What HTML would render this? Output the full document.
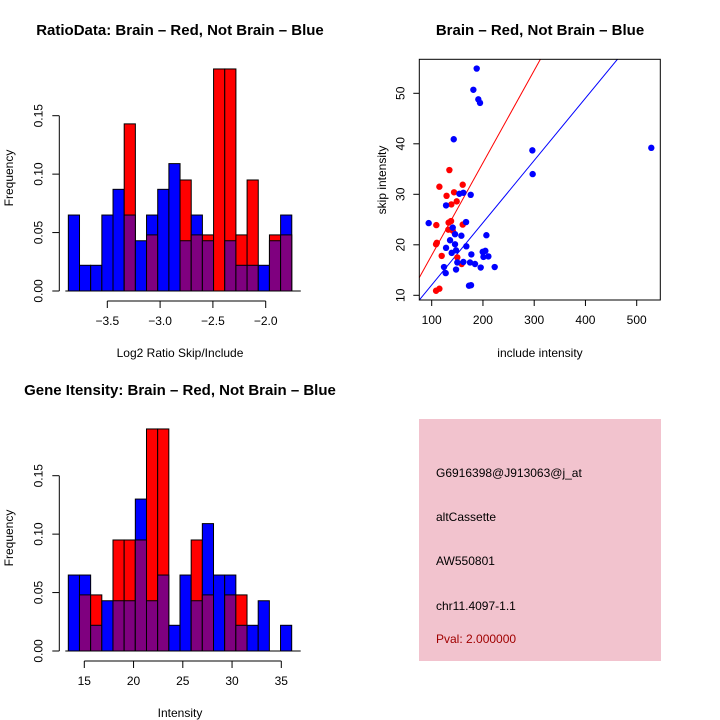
<!DOCTYPE html>
<html><head><meta charset="utf-8"><style>
body{margin:0;background:#fff}
svg{display:block;font-family:"Liberation Sans",sans-serif}
</style></head><body>
<svg id="s" width="720" height="720" xmlns="http://www.w3.org/2000/svg">
<rect width="720" height="720" fill="#fff"/>
<text x="180" y="35" font-size="15" font-weight="bold" text-anchor="middle">RatioData: Brain – Red, Not Brain – Blue</text>
<text x="540" y="35" font-size="15" font-weight="bold" text-anchor="middle">Brain – Red, Not Brain – Blue</text>
<text x="180" y="395" font-size="15" font-weight="bold" text-anchor="middle">Gene Itensity: Brain – Red, Not Brain – Blue</text>
<text x="180" y="357" font-size="12" text-anchor="middle">Log2 Ratio Skip/Include</text>
<text x="180" y="717" font-size="12" text-anchor="middle">Intensity</text>
<text transform="translate(13,178) rotate(-90)" font-size="12" text-anchor="middle">Frequency</text>
<text transform="translate(13,538) rotate(-90)" font-size="12" text-anchor="middle">Frequency</text>
<text x="540" y="357" font-size="12" text-anchor="middle">include intensity</text>
<text transform="translate(386,180) rotate(-90)" font-size="12" text-anchor="middle">skip intensity</text>
<g>
<rect x="419" y="419" width="242" height="242" fill="#f2c3ce"/>
<text x="436" y="477" font-size="12">G6916398@J913063@j_at</text>
<text x="436" y="521" font-size="12">altCassette</text>
<text x="436" y="565" font-size="12">AW550801</text>
<text x="436" y="610" font-size="12">chr11.4097-1.1</text>
<text x="436" y="643" font-size="12" fill="#a00000">Pval: 2.000000</text>
</g>
</svg>
<script>
const ratioBlue=[.065,.022,.022,.065,.087,.065,.043,.065,.087,.109,.043,.065,.043,0,.043,.022,.022,.022,.043,.065];
const ratioRed=[0,0,0,0,0,.143,0,.048,0,0,.095,.048,.048,.190,.190,.048,.095,0,.048,.048];
const ratioStart=-3.869, ratioWidth=0.1058;
const ratioTicks=[-3.5,-3.0,-2.5,-2.0];
const intBlue=[.065,.065,.022,.043,.043,.043,.130,.043,.065,.022,.065,.043,.109,.065,.065,.022,.022,.043,0,.022];
const intRed=[0,.048,.048,0,.095,.095,.095,.190,.190,0,0,.095,.048,0,.048,.048,0,0,0,0];
const intStart=13.376, intWidth=1.134;
const intTicks=[15,20,25,30,35];
const yTicks=[0,0.05,0.10,0.15];
const yTickLabels=["0.00","0.05","0.10","0.15"];
const redX=[115,134.5,129,160.5,143.6,148.8,138.4,109,137.7,133,132.5,160.5,141,108.5,110,119.5,150,158.5,108.5,115];
const redY=[31.5,34.8,29.7,31.9,30.4,28.6,28.0,23.9,24.7,24.4,23,24,22.8,20.1,20.4,17.8,17.5,16.2,10.9,11.3];
const blueX=[187.8,181.3,191,194.3,143,296.4,528.5,297,176.1,154,161.8,128,94.1,167,141,145.5,157.9,135.8,206.7,128,145.5,167.6,139,147.5,177.4,199.5,204.7,201,210.6,124,127.3,147.5,150,161.8,174.8,184.5,195.6,222.9,172.8,176.7];
const blueY=[54.9,50.7,48.8,48.1,40.9,38.7,39.2,34,29.9,30.1,30.3,27.8,24.3,24.5,23.4,22.1,21.8,20.9,21.9,19.4,20.1,19.7,18.4,18.9,18.1,18.6,18.8,17.6,17.7,15.6,14.4,15.1,16.5,16.6,16.5,16.2,15.5,15.6,11.9,12.0];
const redFit=[0.183,-0.37], blueFit=[0.1233,-0.28];
const sxTicks=[100,200,300,400,500], syTicks=[10,20,30,40,50];

const S=document.getElementById('s'), NS='http://www.w3.org/2000/svg';
function mk(t,a,p){const e=document.createElementNS(NS,t);for(const k in a)e.setAttribute(k,a[k]);(p||S).appendChild(e);return e;}

function hist(blue,red,start,w,ticks,x0,x1,vx,base,y15,tickLabel,prefix){
  const g=mk('g',{});
  
  
  const X=v=>x0+(v-vx[0])*(x1-x0)/(vx[1]-vx[0]);
  const Y=v=>base-v*(base-y15)/0.15;
  for(let i=0;i<blue.length;i++){
    const a=X(start+i*w), b=X(start+(i+1)*w);
    const bl=blue[i], rd=red[i], lo=Math.min(bl,rd), hi=Math.max(bl,rd);
    if(hi>0){
      const r=mk('rect',{x:a,y:Y(hi),width:b-a,height:base-Y(hi),fill:bl>=rd?'#0000ff':'#ff0000',stroke:'#000','stroke-width':1},g);
      
      
    }
    if(lo>0){
      const r=mk('rect',{x:a,y:Y(lo),width:b-a,height:base-Y(lo),fill:'#7f007f',stroke:'#000','stroke-width':1},g);
      
      
    }
  }
  mk('line',{x1:X(start)-3,x2:X(start+blue.length*w)+9,y1:base,y2:base,stroke:'#000','stroke-width':1},g);
  const ax=base+10;
  mk('line',{x1:X(ticks[0]),x2:X(ticks[ticks.length-1]),y1:ax,y2:ax,stroke:'#000'},g);
  ticks.forEach(t=>{mk('line',{x1:X(t),x2:X(t),y1:ax,y2:ax+7,stroke:'#000'},g);
    const tx=mk('text',{x:X(t),y:ax+24,'font-size':12,'text-anchor':'middle'},g);tx.textContent=tickLabel(t);
    
    });
  const ay=59.3;
  mk('line',{x1:ay,x2:ay,y1:Y(0),y2:Y(0.15),stroke:'#000'},g);
  yTicks.forEach((t,i)=>{mk('line',{x1:ay-7,x2:ay,y1:Y(t),y2:Y(t),stroke:'#000'},g);
    const tx=mk('text',{transform:`translate(${ay-17},${Y(t)}) rotate(-90)`,'font-size':12,'text-anchor':'middle'},g);tx.textContent=yTickLabels[i];
    
    });
}
hist(ratioBlue,ratioRed,ratioStart,ratioWidth,ratioTicks,107.3,265.7,[-3.5,-2.0],291,115.7,t=>(t<0?'−':'')+Math.abs(t).toFixed(1),'ratio');
hist(intBlue,intRed,intStart,intWidth,intTicks,84.3,281.3,[15,35],651,475.7,t=>String(t),'intensity');

const PX0=419.3,PX1=660.3,PY0=59.3,PY1=300;
const SX=v=>431.7+(v-100)*(636.7-431.7)/400;
const SY=v=>295.3-(v-10)*(295.3-93.3)/40;
const sg=mk('g',{});


const cp=mk('clipPath',{id:'cp'},sg);mk('rect',{x:PX0,y:PY0,width:PX1-PX0,height:PY1-PY0},cp);
const xl=(PX0-431.7)/((636.7-431.7)/400)+100, xr=(PX1-431.7)/((636.7-431.7)/400)+100;
[[redFit,'#ff0000','red-fit-line'],[blueFit,'#0000ff','blue-fit-line']].forEach(([f,c,n])=>{
  const l=mk('line',{x1:SX(xl),y1:SY(f[0]*xl+f[1]),x2:SX(xr),y2:SY(f[0]*xr+f[1]),stroke:c,'stroke-width':1,'clip-path':'url(#cp)'},sg);
  
  
});
redX.forEach((x,i)=>{const c=mk('circle',{cx:SX(x),cy:SY(redY[i]),r:3.2,fill:'#ff0000'},sg);
  
  });
blueX.forEach((x,i)=>{const c=mk('circle',{cx:SX(x),cy:SY(blueY[i]),r:3.2,fill:'#0000ff'},sg);
  
  });
mk('rect',{x:PX0,y:PY0,width:PX1-PX0,height:PY1-PY0,fill:'none',stroke:'#000'},sg);
sxTicks.forEach(t=>{mk('line',{x1:SX(t),x2:SX(t),y1:PY1,y2:PY1+6,stroke:'#000'},sg);
  const tx=mk('text',{x:SX(t),y:PY1+24,'font-size':12,'text-anchor':'middle'},sg);tx.textContent=t;
  
  });
syTicks.forEach(t=>{mk('line',{x1:PX0-6,x2:PX0,y1:SY(t),y2:SY(t),stroke:'#000'},sg);
  const tx=mk('text',{transform:`translate(${PX0-15},${SY(t)}) rotate(-90)`,'font-size':12,'text-anchor':'middle'},sg);tx.textContent=t;
  
  });
</script>
</body></html>
